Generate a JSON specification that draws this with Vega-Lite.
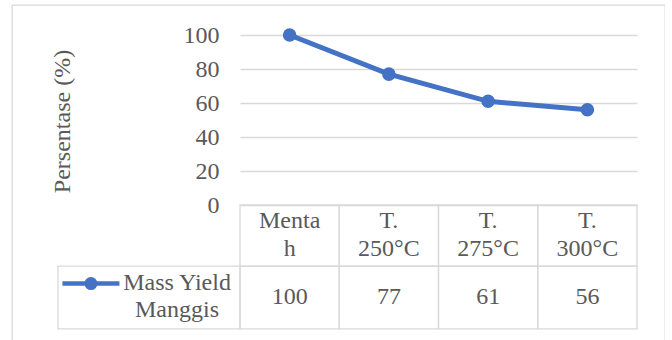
{
  "$schema": "https://vega.github.io/schema/vega-lite/v6.json",
  "width": 653,
  "height": 345,
  "autosize": {"type": "none"},
  "padding": {"left": 12, "top": 5, "right": 0, "bottom": 0},
  "background": "white",
  "config": {
    "view": {"stroke": "#d9d9d9", "strokeWidth": 1.3},
    "font": "Liberation Serif",
    "text": {"font": "Liberation Serif", "fontSize": 24, "color": "#595959"}
  },
  "datasets": {
    "yield": [
      {"cat": "Mentah", "head": "Menta\nh", "value": 100},
      {"cat": "T. 250°C", "head": "T.\n250°C", "value": 77},
      {"cat": "T. 275°C", "head": "T.\n275°C", "value": 61},
      {"cat": "T. 300°C", "head": "T.\n300°C", "value": 56}
    ],
    "series": [
      {"series": "Mass Yield Manggis", "label": "Mass Yield\nManggis"}
    ]
  },
  "resolve": {"scale": {"x": "independent"}},
  "layer": [
    {
      "data": {"name": "yield"},
      "layer": [
        {
          "mark": {"type": "line", "color": "#4472c4", "strokeWidth": 5,
                   "point": {"filled": true, "size": 185, "color": "#4472c4"}},
          "encoding": {
            "x": {"field": "cat", "type": "nominal", "sort": null, "axis": null,
                  "scale": {"type": "band", "range": [228, 625], "paddingInner": 0, "paddingOuter": 0}},
            "y": {
              "field": "value", "type": "quantitative",
              "scale": {"domain": [0, 100], "range": [200, 30], "nice": false, "zero": false},
              "axis": {
                "values": [0, 20, 40, 60, 80, 100],
                "offset": -228,
                "ticks": false,
                "domain": false,
                "labelPadding": 21,
                "labelFont": "Liberation Serif",
                "labelFontSize": 24,
                "labelColor": "#595959",
                "grid": true,
                "gridColor": "#d9d9d9",
                "gridWidth": 1.3,
                "title": "Persentase (%)",
                "titleFont": "Liberation Serif",
                "titleFontSize": 24,
                "titleFontWeight": "normal",
                "titleColor": "#595959",
                "titleX": -178,
                "titleY": 116,
                "titleAngle": 270,
                "titleAlign": "center",
                "titleBaseline": "middle"
              }
            }
          }
        },
        {
          "mark": {"type": "rect", "fill": null, "fillOpacity": 0, "stroke": "#d9d9d9", "strokeWidth": 1.3},
          "encoding": {
            "x": {"field": "cat", "type": "nominal", "sort": null, "axis": null},
            "y": {"datum": 0, "type": "quantitative"},
            "y2": {"datum": -35.9}
          }
        },
        {
          "mark": {"type": "rect", "fill": null, "fillOpacity": 0, "stroke": "#d9d9d9", "strokeWidth": 1.3},
          "encoding": {
            "x": {"field": "cat", "type": "nominal", "sort": null, "axis": null},
            "y": {"datum": -35.9, "type": "quantitative"},
            "y2": {"datum": -72.9}
          }
        },
        {
          "mark": {"type": "text", "lineBreak": "\n", "lineHeight": 28, "baseline": "middle", "align": "center"},
          "encoding": {
            "x": {"field": "cat", "type": "nominal", "sort": null, "axis": null},
            "y": {"datum": -9.7, "type": "quantitative"},
            "text": {"field": "head"}
          }
        },
        {
          "mark": {"type": "text", "baseline": "middle", "align": "center"},
          "encoding": {
            "x": {"field": "cat", "type": "nominal", "sort": null, "axis": null},
            "y": {"datum": -54.1, "type": "quantitative"},
            "text": {"field": "value", "type": "quantitative"}
          }
        }
      ]
    },
    {
      "data": {"name": "series"},
      "layer": [
        {
          "mark": {"type": "rect", "fill": null, "fillOpacity": 0, "stroke": "#d9d9d9", "strokeWidth": 1.3},
          "encoding": {
            "x": {"field": "series", "type": "nominal", "axis": null,
                  "scale": {"type": "band", "range": [46, 228], "paddingInner": 0, "paddingOuter": 0}},
            "y": {"datum": -35.9, "type": "quantitative"},
            "y2": {"datum": -72.9}
          }
        },
        {
          "mark": {"type": "point", "shape": "stroke", "filled": false, "size": 3249, "strokeWidth": 4.5, "color": "#4472c4", "opacity": 1},
          "encoding": {
            "x": {"field": "series", "type": "nominal", "axis": null, "bandPosition": 0.181},
            "y": {"datum": -46.2, "type": "quantitative"}
          }
        },
        {
          "mark": {"type": "point", "shape": "circle", "filled": true, "size": 170, "color": "#4472c4", "opacity": 1},
          "encoding": {
            "x": {"field": "series", "type": "nominal", "axis": null, "bandPosition": 0.181},
            "y": {"datum": -46.2, "type": "quantitative"}
          }
        },
        {
          "mark": {"type": "text", "lineBreak": "\n", "lineHeight": 27, "baseline": "middle", "align": "center"},
          "encoding": {
            "x": {"field": "series", "type": "nominal", "axis": null, "bandPosition": 0.654},
            "y": {"datum": -46.0, "type": "quantitative"},
            "text": {"field": "label"}
          }
        }
      ]
    }
  ]
}
